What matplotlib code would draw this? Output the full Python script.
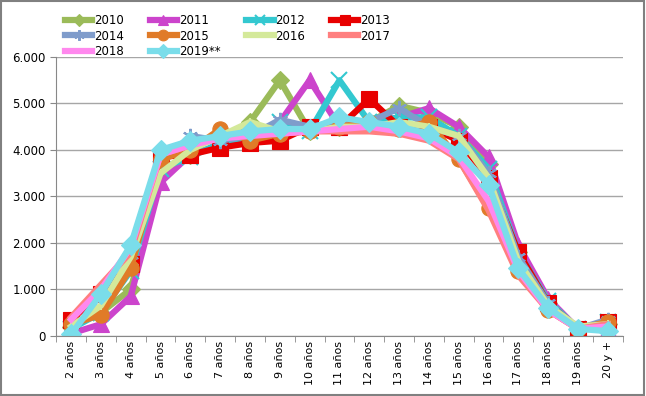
import matplotlib
matplotlib.use("Agg")
import matplotlib.pyplot as plt
from matplotlib.patches import Rectangle
from matplotlib.ticker import FuncFormatter, FixedLocator

ages = ["2 años", "3 años", "4 años", "5 años", "6 años", "7 años", "8 años",
        "9 años", "10 años", "11 años", "12 años", "13 años", "14 años",
        "15 años", "16 años", "17 años", "18 años", "19 años", "20 y +"]

y2010 = [200, 500, 1000, 3500, 3900, 4100, 4600, 5500, 4400, 4500, 4600, 4950, 4800, 4500, 3700, 1800, 700, 150, 250]
y2011 = [50, 250, 850, 3300, 3900, 4100, 4300, 4600, 5500, 4500, 4600, 4700, 4900, 4500, 3850, 1950, 800, 150, 150]
y2012 = [150, 500, 1400, 3600, 3850, 4150, 4300, 4600, 4400, 5500, 4600, 4700, 4700, 4300, 3600, 1800, 750, 150, 300]
y2013 = [350, 900, 1550, 3850, 3900, 4050, 4150, 4200, 4500, 4500, 5100, 4500, 4500, 4200, 3400, 1800, 700, 150, 300]
y2014 = [200, 600, 1600, 3700, 4300, 4200, 4300, 4650, 4500, 4600, 4600, 4900, 4500, 4300, 3500, 1700, 700, 150, 350]
y2015 = [250, 450, 1450, 3800, 4000, 4450, 4200, 4350, 4400, 4500, 4600, 4450, 4600, 3800, 2750, 1400, 550, 150, 300]
y2016 = [200, 650, 1700, 3500, 4000, 4300, 4600, 4400, 4400, 4500, 4500, 4600, 4500, 4300, 3400, 1600, 650, 200, 250]
y2017 = [400, 1100, 1800, 3900, 4100, 4300, 4350, 4350, 4400, 4400, 4400, 4350, 4200, 3800, 2700, 1300, 550, 150, 250]
y2018 = [350, 1000, 1900, 3900, 4100, 4250, 4300, 4350, 4400, 4450, 4500, 4400, 4250, 3850, 2900, 1400, 550, 150, 200]
y2019 = [30, 900, 1950, 4000, 4200, 4300, 4400, 4450, 4450, 4700, 4600, 4500, 4350, 3950, 3250, 1450, 600, 150, 100]

series = [
    ("2010", y2010, "#9BBB59", "D", 9),
    ("2011", y2011, "#CC44CC", "^", 11),
    ("2012", y2012, "#33C8D0", "x", 11),
    ("2013", y2013, "#E80000", "s", 11),
    ("2014", y2014, "#7F9CCB", (6, 2, 0), 11),
    ("2015", y2015, "#E07B28", "o", 11),
    ("2016", y2016, "#D4E99A", "|", 6),
    ("2017", y2017, "#FF7F7F", None, 0),
    ("2018", y2018, "#FF88EE", None, 0),
    ("2019**", y2019, "#7ADDEA", "D", 10),
]

fig = plt.figure(figsize=(6.46, 3.96), dpi=100)
ax = fig.add_axes([0.087, 0.152, 0.877, 0.704])

x = list(range(len(ages)))
handles = []
for name, vals, col, mk, ms in series:
    kw = dict(color=col, lw=4.5, label=name, solid_joinstyle="round")
    if mk is not None:
        kw.update(marker=mk, markersize=ms, markerfacecolor=col,
                  markeredgecolor=col, markeredgewidth=1.5 if mk in ("x", "|") or isinstance(mk, tuple) else 0.8)
    h, = ax.plot(x, vals, **kw)
    handles.append(h)

ax.set_xlim(-0.5, len(ages) - 0.5)
ax.set_ylim(0, 6000)
ax.set_yticks(range(0, 6001, 1000))
ax.yaxis.set_major_formatter(FuncFormatter(lambda v, p: f"{int(v):,}".replace(",", ".")))
ax.set_xticks(x)
ax.set_xticklabels(ages, rotation=90, fontsize=8)
ax.xaxis.set_minor_locator(FixedLocator([i - 0.5 for i in range(len(ages) + 1)]))
ax.tick_params(axis="x", which="major", length=0, pad=4)
ax.tick_params(axis="x", which="minor", length=4, color="#888888")
ax.tick_params(axis="y", length=4, color="#888888", labelsize=8.5)
ax.grid(axis="y", color="#A6A6A6", lw=1)
ax.set_axisbelow(True)
for s in ("top", "right"):
    ax.spines[s].set_visible(False)
ax.spines["left"].set_color("#888888")
ax.spines["bottom"].set_color("#888888")

# legend filled row by row, like the original
order = [0, 4, 8, 1, 5, 9, 2, 6, 3, 7]
fig.legend(handles=[handles[i] for i in order], loc="upper left",
           bbox_to_anchor=(0.088, 0.985), ncol=4, frameon=False, fontsize=8.5,
           handlelength=2.3, handletextpad=0.15, columnspacing=2.2,
           labelspacing=0.2, borderpad=0.2, markerscale=0.7)

fig.patches.append(Rectangle((0.002, 0.003), 0.995, 0.994, transform=fig.transFigure,
                             fill=False, edgecolor="#808080", lw=1.5))

fig.savefig("out.png", dpi=100)
